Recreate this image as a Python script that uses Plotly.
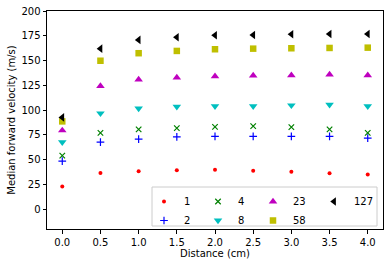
import plotly.graph_objects as go

distance = [0.0, 0.5, 1.0, 1.5, 2.0, 2.5, 3.0, 3.5, 4.0]
labels = ["1", "2", "4", "8", "23", "58", "127"]
v1 = [23, 36.6, 38.3, 39.3, 39.7, 38.7, 37.7, 36.2, 34.9]
v2 = [48.4, 67.6, 70.6, 73, 73.4, 73.4, 73.4, 73.4, 71.7]
v4 = [54, 77, 80.5, 81.8, 83, 83.8, 82.8, 80.5, 77]
v8 = [67.6, 96.7, 101.7, 103.4, 104, 104, 104.8, 105.5, 104]
v23 = [79.5, 124.3, 130.8, 132.8, 134.1, 134.8, 135.1, 135.8, 135.1]
v58 = [88.6, 149.8, 157.4, 159.7, 161.4, 162, 162.4, 162.7, 163]
v127 = [92.6, 162, 170.8, 173.5, 175.5, 175.8, 176.5, 176.8, 176.8]
x_ticks = [0.0, 0.5, 1.0, 1.5, 2.0, 2.5, 3.0, 3.5, 4.0]
y_ticks = [0, 25, 50, 75, 100, 125, 150, 175, 200]

series = [
    (v1, "circle", "#FF0000", 4, "legend"),
    (v2, "cross-thin", "#0000FF", 5.5, "legend"),
    (v4, "x-thin", "#008000", 5.5, "legend2"),
    (v8, "triangle-down", "#00BFBF", 7.5, "legend2"),
    (v23, "triangle-up", "#BF00BF", 7.5, "legend3"),
    (v58, "square", "#BFBF00", 6.5, "legend3"),
    (v127, "triangle-left", "#000000", 7.5, "legend4"),
]

fig = go.Figure()
for (vals, sym, col, size, leg), name in zip(series, labels):
    thin = sym.endswith("-thin")
    fig.add_trace(go.Scatter(
        x=distance, y=vals, mode="markers", name=name, legend=leg,
        marker=dict(symbol=sym, color=col, size=size,
                    line=dict(color=col, width=1.2 if thin else 0)),
    ))

L, R, T, B = 47, 7, 11, 38
W, H = 390, 267
pw, ph = W - L - R, H - T - B

def px_x(p):
    return (p - L) / pw

def px_y(p):
    return (H - B - p) / ph

font = dict(family="DejaVu Sans", size=10, color="black")
leg_common = dict(bgcolor="rgba(0,0,0,0)", borderwidth=0, font=font,
                  xanchor="left", yanchor="top", y=px_y(187), orientation="v",
                  tracegroupgap=0, itemwidth=30)

fig.update_layout(
    width=W, height=H,
    margin=dict(l=L, r=R, t=T, b=B),
    plot_bgcolor="white", paper_bgcolor="white",
    font=font,
    xaxis=dict(range=[-0.2, 4.2], tickvals=x_ticks, ticktext=[f"{v:.1f}" for v in x_ticks],
               showgrid=False, zeroline=False, showline=True, linecolor="black",
               linewidth=1, mirror=True, ticks="outside", ticklen=3.5, tickcolor="black",
               automargin=False,
               title=dict(text="Distance (cm)", font=font, standoff=3)),
    yaxis=dict(range=[-20, 200], tickvals=y_ticks,
               showgrid=False, zeroline=False, showline=True, linecolor="black",
               linewidth=1, mirror=True, ticks="outside", ticklen=3.5, tickcolor="black",
               automargin=False,
               title=dict(text="Median forward velocity (m/s)", font=font, standoff=3)),
    legend=dict(x=px_x(144), **leg_common),
    legend2=dict(x=px_x(198), **leg_common),
    legend3=dict(x=px_x(253), **leg_common),
    legend4=dict(x=px_x(314), **leg_common),
    shapes=[dict(type="rect", xref="paper", yref="paper",
                 x0=px_x(152), x1=px_x(377), y0=px_y(226), y1=px_y(187),
                 fillcolor="rgba(255,255,255,0.8)", line=dict(color="#CCCCCC", width=1),
                 layer="above")],
)

fig.write_html("out.html", config={"displayModeBar": False},
               post_script="document.body.style.margin='0px';")
